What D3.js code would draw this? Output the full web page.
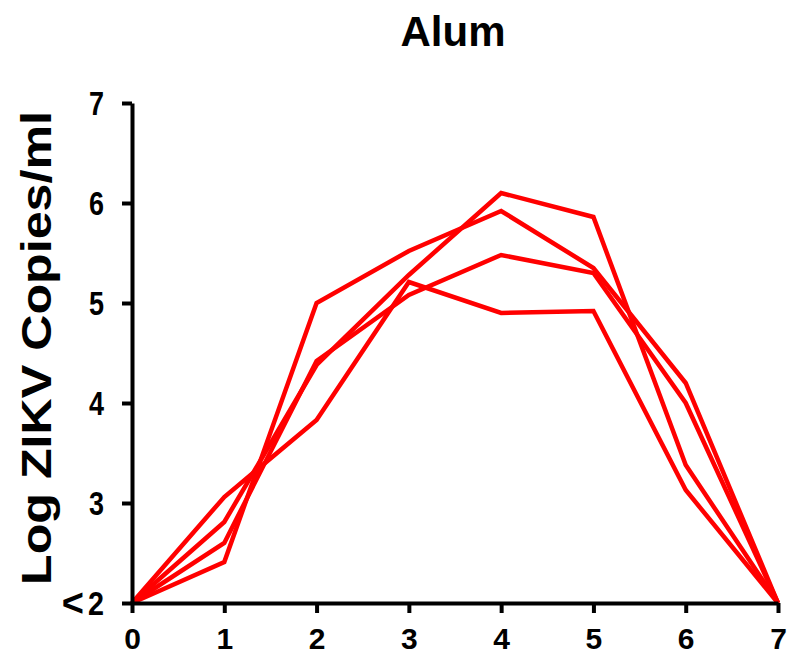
<!DOCTYPE html>
<html>
<head>
<meta charset="utf-8">
<script src="https://cdn.jsdelivr.net/npm/d3@7"></script>
<style>
  html, body { margin: 0; padding: 0; background: #fff; }
  svg { display: block; }
  text { font-family: "Liberation Sans", Arial, sans-serif; font-weight: bold; fill: #000; }
</style>
</head>
<body>
<svg id="chart" width="791" height="655"></svg>
<script>
const days = [0, 1, 2, 3, 4, 5, 6, 7];
const yTicks = [2, 3, 4, 5, 6, 7];
const yTickLabels = ["<2", "3", "4", "5", "6", "7"];
const animal1 = [2, 3.06, 3.83, 5.21, 4.90, 4.92, 3.13, 2];
const animal2 = [2, 2.81, 4.38, 5.28, 6.10, 5.86, 3.38, 2];
const animal3 = [2, 2.60, 4.42, 5.08, 5.48, 5.30, 4.00, 2];
const animal4 = [2, 2.41, 5.00, 5.52, 5.92, 5.35, 4.20, 2];
const seriesList = [animal1, animal2, animal3, animal4];
const title = "Alum";
const yLabel = "Log ZIKV Copies/ml";

const svg = d3.select("#chart");
const x = d3.scaleLinear().domain([0, 7]).range([132, 778]);
const y = d3.scaleLinear().domain([2, 7]).range([603, 103]);

// title
svg.append("text").attr("x", 453).attr("y", 46)
  .attr("text-anchor", "middle").style("font-size", "42px").text(title);

// y label
svg.append("text")
  .attr("transform", "translate(51,348) rotate(-90)")
  .attr("text-anchor", "middle").style("font-size", "43px")
  .attr("textLength", 474).attr("lengthAdjust", "spacingAndGlyphs")
  .text(yLabel);

// lines
const line = d3.line().x((d, i) => x(days[i])).y(d => y(d));
svg.append("g").selectAll("path").data(seriesList).join("path")
  .attr("d", line)
  .attr("fill", "none")
  .attr("stroke", "#ff0000")
  .attr("stroke-width", 4.5)
  .attr("stroke-linejoin", "miter");

// axes
const yAxis = d3.axisLeft(y).tickValues(yTicks)
  .tickFormat((d, i) => yTickLabels[i]).tickSizeInner(10).tickSizeOuter(0).tickPadding(18);
const xAxis = d3.axisBottom(x).tickValues(days)
  .tickFormat(d3.format("d")).tickSizeInner(10).tickSizeOuter(0).tickPadding(15);

const gy = svg.append("g").attr("transform", "translate(132,0)").call(yAxis);
const gx = svg.append("g").attr("transform", "translate(0,603)").call(xAxis);
[gx, gy].forEach(g => {
  g.attr("font-family", "'Liberation Sans', Arial, sans-serif");
  g.select(".domain").attr("stroke", "#000").attr("stroke-width", 4);
  g.selectAll(".tick line").attr("stroke", "#000").attr("stroke-width", 4);
  g.selectAll(".tick text").attr("fill", "#000").attr("font-weight", "bold");
});
gx.attr("font-size", 30);
gy.attr("font-size", 33);
gy.selectAll(".tick text")
  .attr("dy", "0.36em")
  .each(function(d, i) {
    const t = d3.select(this);
    const lab = yTickLabels[i];
    if (lab.length > 1) {
      t.attr("dy", null).text(null);
      t.append("tspan").attr("font-size", 38).attr("dy", 12).text(lab.slice(0, 1));
      t.append("tspan").attr("dx", 4).attr("dy", -1)
        .attr("textLength", 16).attr("lengthAdjust", "spacingAndGlyphs").text(lab.slice(1));
    } else {
      t.attr("textLength", 15).attr("lengthAdjust", "spacingAndGlyphs");
    }
  });
</script>
</body>
</html>
